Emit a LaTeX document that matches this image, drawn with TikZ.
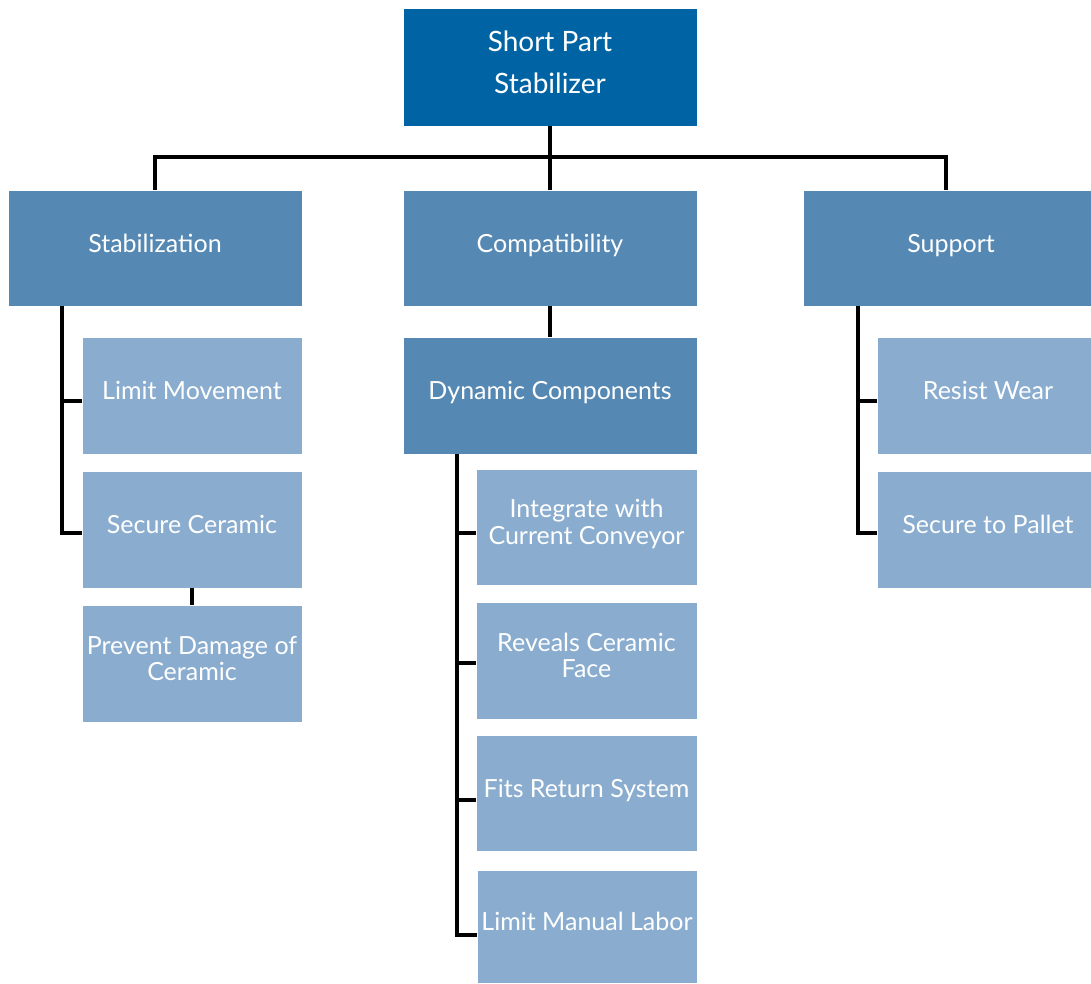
\documentclass[tikz,border=0pt]{standalone}
\usepackage{fontspec}
\setmainfont{Lato}
\definecolor{topc}{HTML}{0064A4}
\definecolor{midc}{HTML}{5589B4}
\definecolor{leafc}{HTML}{8AADCF}
\begin{document}
\begin{tikzpicture}[x=1pt,y=-1pt,
  box/.style={rectangle, inner sep=1pt, text=white, align=center, draw=white, line width=0.6pt, text depth=10pt},
  topbox/.style={box, fill=topc, minimum width=294pt, minimum height=118pt, font=\fontsize{28}{42}\selectfont},
  midbox/.style={box, fill=midc, minimum height=117pt, font=\fontsize{25}{26.5}\selectfont},
  leafbox/.style={box, fill=leafc, minimum height=117pt, font=\fontsize{25}{26.5}\selectfont},
  conn/.style={line width=4pt, black}]
\useasboundingbox (0,0) rectangle (1091,983);
\fill[white] (0,0) rectangle (1091,983);
% nodes
\node[topbox] (top) at (550,67) {Short Part\\Stabilizer};
\node[midbox, minimum width=294pt, minimum height=116pt] (stab) at (155,248) {Stabilization};
\node[midbox, minimum width=294pt, minimum height=116pt] (compat) at (550,248) {Compatibility};
\node[midbox, minimum width=296pt, minimum height=116pt] (support) at (951,248) {Support};
\node[leafbox, minimum width=220pt] (limmov) at (192,395.5) {Limit Movement};
\node[leafbox, minimum width=220pt] (secceram) at (192,529.5) {Secure Ceramic};
\node[leafbox, minimum width=220pt] (prevdam) at (192,663.5) {Prevent Damage of\\Ceramic};
\node[midbox, minimum width=294pt] (dyn) at (550,395.5) {Dynamic Components};
\node[leafbox, minimum width=221pt, minimum height=116pt] (integ) at (586.5,527) {Integrate with\\Current Conveyor};
\node[leafbox, minimum width=221pt] (reveals) at (586.5,660.5) {Reveals Ceramic\\Face};
\node[leafbox, minimum width=221pt, minimum height=116pt] (fits) at (586.5,793) {Fits Return System};
\node[leafbox, minimum width=220pt, minimum height=113pt] (limman) at (587,926.5) {Limit Manual Labor};
\node[leafbox, minimum width=222pt] (resist) at (988,395.5) {Resist Wear};
\node[leafbox, minimum width=222pt] (secpal) at (988,529.5) {Secure to Pallet};
% connectors
\coordinate (bus) at (550,157);
\coordinate (supx) at (946,190);
\draw[conn] (top.south) -- (compat.north);
\draw[conn] (stab.north) |- (bus) -| (supx);
\draw[conn] (compat.south) -- (dyn.north);
\draw[conn] (secceram.south) -- (prevdam.north);
% stabilization spine
\coordinate (sx) at (62,306);
\draw[conn] (sx) |- ([yshift=-3.5pt]secceram.west);
\draw[conn] ([yshift=-5.5pt]limmov.west) -- ([yshift=-5.5pt]limmov.west -| sx);
% support spine
\coordinate (px) at (858,306);
\draw[conn] (px) |- ([yshift=-3.5pt]secpal.west);
\draw[conn] ([yshift=-5.5pt]resist.west) -- ([yshift=-5.5pt]resist.west -| px);
% dynamic spine
\coordinate (dx) at (457,454);
\draw[conn] (dx) |- ([yshift=-8.5pt]limman.west);
\draw[conn] ([yshift=-6pt]integ.west) -- ([yshift=-6pt]integ.west -| dx);
\draw[conn] ([yshift=-2.5pt]reveals.west) -- ([yshift=-2.5pt]reveals.west -| dx);
\draw[conn] ([yshift=-7pt]fits.west) -- ([yshift=-7pt]fits.west -| dx);
\end{tikzpicture}
\end{document}
